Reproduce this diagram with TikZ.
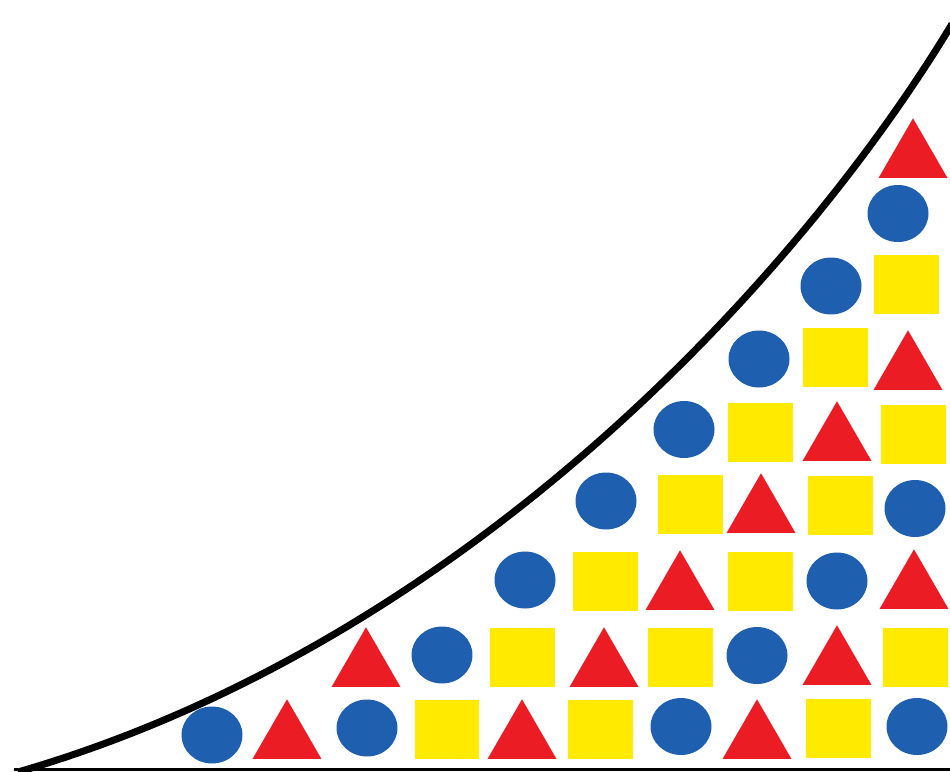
\documentclass[tikz,border=0pt]{standalone}
\usepackage{xcolor}
\usepackage{tikz}
\usetikzlibrary{shapes.geometric}
\definecolor{dotBlue}{HTML}{1f5fb0}
\definecolor{triRed}{HTML}{ec1c24}
\definecolor{sqYellow}{HTML}{ffea00}
\begin{document}
\begin{tikzpicture}[x=0.02cm, y=-0.02cm, dot/.style={ellipse, fill=dotBlue, inner sep=0pt, minimum width=1.22cm, minimum height=1.14cm},tri/.style={regular polygon, regular polygon sides=3, fill=triRed, inner sep=0pt, minimum size=1.59cm},sq/.style={rectangle, fill=sqYellow, inner sep=0pt, minimum width=1.3cm, minimum height=1.18cm}]
\useasboundingbox (0,0) rectangle (950,771);
% bottom row
\node[dot] (b1a) at (212,735) {}; \node[tri] (r1a) at (287,739) {}; \node[dot] (b1b) at (367,728) {}; \node[sq] (y1a) at (447,729.5) {}; \node[tri] (r1b) at (522,739) {};
\node[sq] (y1b) at (600,729.5) {}; \node[dot] (b1c) at (681,726.5) {}; \node[tri] (r1c) at (757,739) {}; \node[sq] (y1c) at (838,728.5) {}; \node[dot] (b1d) at (917,726.5) {};
\node[tri] (r2a) at (366,667) {}; \node[dot] (b2a) at (442,655) {}; \node[sq] (y2a) at (522,657) {}; \node[tri] (r2b) at (604,667) {};
\node[sq] (y2b) at (680,657) {}; \node[dot] (b2b) at (757,655.5) {}; \node[tri] (r2c) at (837,665) {}; \node[sq] (y2c) at (915,657.5) {};
\node[dot] (b3a) at (525,580) {}; \node[sq] (y3a) at (605,581) {}; \node[tri] (r3a) at (680,590) {}; \node[sq] (y3b) at (760,581.5) {}; \node[dot] (b3b) at (837,581) {}; \node[tri] (r3b) at (914,589) {};
\node[dot] (b4a) at (606,501) {}; \node[sq] (y4a) at (690,504) {}; \node[tri] (r4a) at (761,513) {}; \node[sq] (y4b) at (840,505.5) {}; \node[dot] (b4b) at (915,508.5) {};
\node[dot] (b5a) at (684,429.5) {}; \node[sq] (y5a) at (760,432) {}; \node[tri] (r5a) at (837,441) {}; \node[sq] (y5b) at (913,434) {};
\node[dot] (b6a) at (759,359) {}; \node[sq] (y6a) at (835,357.5) {}; \node[tri] (r6a) at (908,370) {};
\node[dot] (b7a) at (831,286) {}; \node[sq] (y7a) at (906,284.5) {};
\node[dot] (b8a) at (898,213.5) {};
\node[tri] (r9a) at (913,158) {};
% axis and growth curve
\draw[line width=1.7pt] (14,769.5) -- (950,769.5);
\draw[line width=4pt] (18,772) .. controls (468,641.5) and (802,273) .. (952,24);
\end{tikzpicture}
\end{document}
